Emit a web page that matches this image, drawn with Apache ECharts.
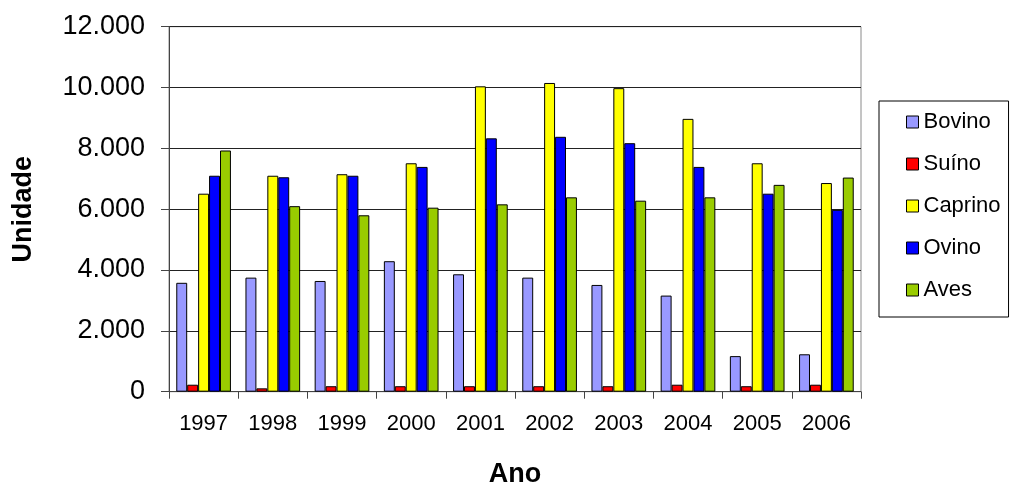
<!DOCTYPE html>
<html>
<head>
<meta charset="utf-8">
<script src="https://cdn.jsdelivr.net/npm/echarts@6/dist/echarts.min.js"></script>
<style>
html,body{margin:0;padding:0;background:#fff;}
#chart{width:1016px;height:487px;}
</style>
</head>
<body>
<div id="chart"></div>
<script>
const years = ['1997','1998','1999','2000','2001','2002','2003','2004','2005','2006'];
const bovino  = [3580, 3750, 3640, 4290, 3860, 3750, 3510, 3160, 1170, 1230];
const suino   = [230, 110, 180, 180, 180, 180, 180, 230, 180, 230];
const caprino = [6510, 7100, 7150, 7510, 10040, 10150, 9980, 8970, 7510, 6860];
const ovino   = [7100, 7050, 7100, 7390, 8330, 8380, 8170, 7390, 6510, 5980];
const aves    = [7930, 6100, 5800, 6050, 6160, 6390, 6280, 6390, 6800, 7040];
const seriesNames = ['Bovino','Suíno','Caprino','Ovino','Aves'];
const seriesColors = ['#9999FF','#FF0000','#FFFF00','#0000FF','#99CC00'];
const yTicks = [0, 2000, 4000, 6000, 8000, 10000, 12000];

const font = '"Liberation Sans", Arial, sans-serif';
const dataSets = [bovino, suino, caprino, ovino, aves];

const chart = echarts.init(document.getElementById('chart'), null, {renderer:'canvas'});
chart.setOption({
  animation: false,
  backgroundColor: '#fff',
  grid: {
    left: 169, right: 155, top: 26.7, bottom: 95.3,
    containLabel: false,
    outerBoundsMode: 'none',
    show: true, borderColor: '#8a8a8a', borderWidth: 1, backgroundColor: 'transparent'
  },
  legend: {
    orient: 'vertical',
    left: 879, top: 101,
    padding: [10, 8, 16, 27],
    borderColor: '#000', borderWidth: 1,
    itemWidth: 12, itemHeight: 12, itemGap: 20,
    icon: 'rect',
    itemStyle: {borderColor: '#000', borderWidth: 1},
    textStyle: {fontFamily: font, fontSize: 22, color: '#000', lineHeight: 22},
    data: seriesNames
  },
  xAxis: {
    type: 'category',
    data: years,
    name: 'Ano',
    nameLocation: 'middle',
    nameGap: 69,
    nameTextStyle: {fontFamily: font, fontSize: 27, fontWeight: 'bold', color: '#000'},
    axisLine: {lineStyle: {color: '#444', width: 1}},
    axisTick: {show: true, length: 7, lineStyle: {color: '#444'}},
    axisLabel: {fontFamily: font, fontSize: 22, color: '#000', margin: 21},
    splitLine: {show: false}
  },
  yAxis: {
    type: 'value',
    min: yTicks[0], max: yTicks[yTicks.length-1], interval: yTicks[1]-yTicks[0],
    name: 'Unidade',
    nameLocation: 'middle',
    nameGap: 132,
    nameTextStyle: {fontFamily: font, fontSize: 27, fontWeight: 'bold', color: '#000'},
    axisLine: {show: true, lineStyle: {color: '#444', width: 1}},
    axisTick: {show: true, length: 8, lineStyle: {color: '#444'}},
    axisLabel: {
      fontFamily: font, fontSize: 27, color: '#000', margin: 24,
      formatter: v => String(v).replace(/\B(?=(\d{3})+(?!\d))/g, '.')
    },
    splitLine: {show: true, lineStyle: {color: '#222', width: 1}}
  },
  series: seriesNames.map((n, i) => ({
    name: n,
    type: 'bar',
    data: dataSets[i],
    barGap: '0%',
    barCategoryGap: '21%',
    itemStyle: {color: seriesColors[i], borderColor: '#000', borderWidth: 1}
  }))
});
</script>
</body>
</html>
